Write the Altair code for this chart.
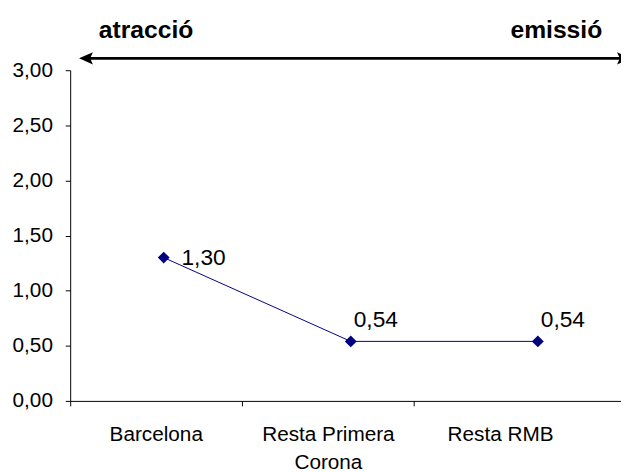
import altair as alt
import pandas as pd

categories = ["Barcelona", "Resta Primera Corona", "Resta RMB"]
values = [1.30, 0.54, 0.54]
y_ticks = [0, 0.5, 1.0, 1.5, 2.0, 2.5, 3.0]
arrow_labels = ["atracció", "emissió"]

df = pd.DataFrame({"cat": categories, "val": values})
one = pd.DataFrame({"k": [0]})

FONT = "Liberation Sans"
W, H = 558, 335
NAVY = "#000080"
cat_js = "[" + ",".join(f"'{c}'" for c in categories) + "]"

x_band = alt.X(
    "cat:N", sort=categories,
    scale=alt.Scale(type="band", domain=categories, paddingInner=0, paddingOuter=0.1, align=0),
    axis=alt.Axis(
        title=None, labelAngle=0, bandPosition=0, tickSize=5, tickColor="black",
        domainColor="black", labelFont=FONT, labelFontSize=21, labelColor="black",
        labelPadding=18, labelLineHeight=28, grid=False,
        labelExpr="datum.label == 'Resta Primera Corona' ? ['Resta Primera', 'Corona'] : datum.label",
    ),
)

# point positions: category index centred in slots slightly wider than the axis bands
x_pt = alt.X("idx:Q", scale=alt.Scale(domain=[0, 2.9446], nice=False, zero=False), axis=None)

y_enc = alt.Y(
    "val:Q",
    scale=alt.Scale(domain=[0, 3], nice=False, zero=True),
    axis=alt.Axis(
        title=None, values=y_ticks, grid=False, tickSize=5, tickColor="black",
        domainColor="black", labelFont=FONT, labelFontSize=21, labelColor="black",
        labelPadding=13,
        labelExpr="replace(format(datum.value, '.2f'), '.', ',')",
    ),
)

base = alt.Chart(df)
pbase = base.transform_calculate(
    idx=f"indexof({cat_js}, datum.cat) + 0.5",
    lbl="replace(format(datum.val, '.2f'), '.', ',')",
)

axis_layer = base.mark_point(opacity=0).encode(x=x_band)

line = pbase.mark_line(color=NAVY, strokeWidth=1).encode(x=x_pt, y=y_enc)
pts = pbase.mark_point(shape="diamond", filled=True, size=144, color=NAVY, opacity=1).encode(x=x_pt, y=y_enc)

lbl1 = pbase.transform_filter(f"datum.cat == '{categories[0]}'").mark_text(
    align="left", baseline="middle", dx=18, dy=0, font=FONT, fontSize=23, color="black"
).encode(x=x_pt, y=y_enc, text="lbl:N")
lbl2 = pbase.transform_filter(f"datum.cat != '{categories[0]}'").mark_text(
    align="left", baseline="middle", dx=3, dy=-22, font=FONT, fontSize=23, color="black"
).encode(x=x_pt, y=y_enc, text="lbl:N")

ann = alt.Chart(one)
rule = ann.mark_rule(color="black", strokeWidth=3).encode(
    x=alt.value(14), x2=alt.value(565), y=alt.value(-12)
)
head_l = ann.mark_point(shape="M-1,0L1,-0.9L0.6,0L1,0.9Z", filled=True, size=196, color="black", opacity=1).encode(
    x=alt.value(16), y=alt.value(-12)
)
head_r = ann.mark_point(shape="M1,0L-1,-0.9L-0.6,0L-1,0.9Z", filled=True, size=196, color="black", opacity=1).encode(
    x=alt.value(561), y=alt.value(-12)
)
txt_l = ann.mark_text(align="left", baseline="middle", font=FONT, fontSize=25, fontWeight="bold", color="black").encode(
    x=alt.value(29), y=alt.value(-41), text=alt.value(arrow_labels[0])
)
txt_r = ann.mark_text(align="right", baseline="middle", font=FONT, fontSize=25, fontWeight="bold", color="black").encode(
    x=alt.value(539), y=alt.value(-41), text=alt.value(arrow_labels[1])
)

chart = alt.layer(
    axis_layer, line, pts, lbl1, lbl2, rule, head_l, head_r, txt_l, txt_r
).resolve_scale(x="independent").properties(
    width=W, height=H,
    autosize=alt.AutoSizeParams(type="none"),
    padding={"left": 63, "top": 60, "right": 0, "bottom": 69},
    background="white",
).configure_view(stroke=None)

chart.save("out.html", embed_options={"renderer": "svg", "actions": False})
